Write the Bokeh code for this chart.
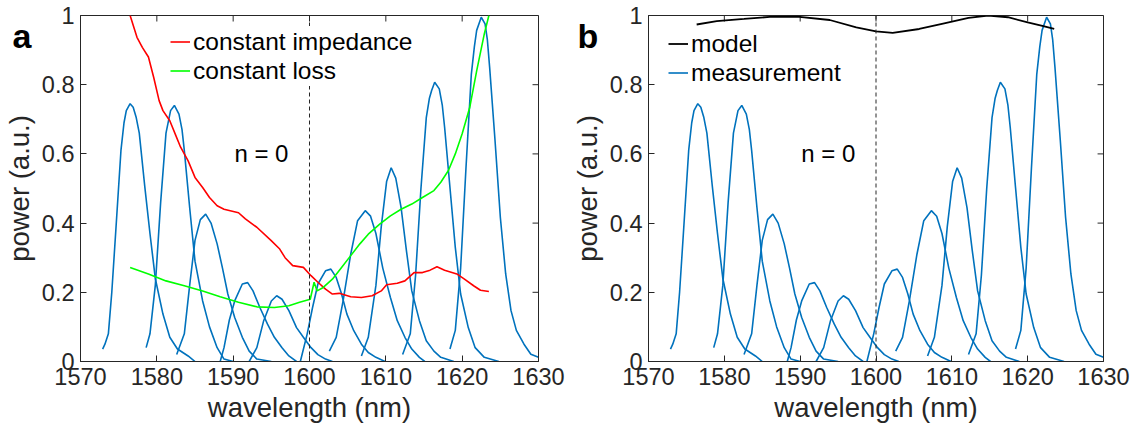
from bokeh.plotting import figure
from bokeh.layouts import row
from bokeh.models import Span, Label, Legend, LegendItem, FixedTicker, Range1d
from bokeh.embed import file_html
from bokeh.resources import INLINE

FONT = "Liberation Sans"
AX = "#262626"
BLUE = "#0072BD"

x_ticks = [1570, 1580, 1590, 1600, 1610, 1620, 1630]
y_ticks = [0, 0.2, 0.4, 0.6, 0.8, 1]
y_tick_labels = ["0", "0.2", "0.4", "0.6", "0.8", "1"]

# measured peaks (wavelength nm, power a.u.)
m1_wl = [1572.9, 1573.2, 1573.65, 1574.1, 1574.6, 1575.3, 1575.7, 1576.0, 1576.5, 1576.9, 1577.3, 1577.7, 1578.4, 1579.1, 1579.8, 1580.8, 1581.7, 1582.7, 1584.1, 1585.0]
m1_p = [0.036, 0.05, 0.08, 0.2, 0.37, 0.61, 0.69, 0.725, 0.745, 0.735, 0.705, 0.66, 0.51, 0.37, 0.24, 0.137, 0.07, 0.036, 0.016, 0.0]
m2_wl = [1578.6, 1579.1, 1579.8, 1580.5, 1581.2, 1581.8, 1582.3, 1582.9, 1583.3, 1583.6, 1584.3, 1585.0, 1586.0, 1586.9, 1587.9, 1588.8, 1590.0]
m2_p = [0.04, 0.08, 0.22, 0.46, 0.66, 0.725, 0.74, 0.715, 0.67, 0.61, 0.445, 0.29, 0.175, 0.10, 0.04, 0.007, 0.0]
m3_wl = [1582.6, 1583.6, 1584.3, 1585.0, 1585.7, 1586.4, 1587.1, 1587.9, 1588.6, 1589.3, 1590.2, 1591.2, 1592.1, 1593.1, 1595.0]
m3_p = [0.02, 0.08, 0.22, 0.35, 0.41, 0.426, 0.40, 0.34, 0.27, 0.195, 0.127, 0.07, 0.03, 0.007, 0.0]
m4_wl = [1588.3, 1588.8, 1589.5, 1590.2, 1591.2, 1591.9, 1592.6, 1593.5, 1594.5, 1595.4, 1596.4, 1597.3, 1598.3]
m4_p = [0.0, 0.04, 0.12, 0.175, 0.224, 0.228, 0.204, 0.156, 0.108, 0.07, 0.04, 0.016, 0.0]
m5_wl = [1592.1, 1593.1, 1594.0, 1595.0, 1595.7, 1596.4, 1597.3, 1598.3, 1599.2, 1600.2, 1601.1, 1602.1, 1603.0]
m5_p = [0.0, 0.04, 0.118, 0.175, 0.19, 0.18, 0.147, 0.098, 0.07, 0.04, 0.02, 0.007, 0.0]
m6_wl = [1598.8, 1599.7, 1600.4, 1601.1, 1602.1, 1602.8, 1603.5, 1604.2, 1604.9, 1605.8, 1606.8, 1607.7, 1608.7, 1609.9]
m6_p = [0.0, 0.08, 0.156, 0.224, 0.262, 0.267, 0.243, 0.195, 0.137, 0.089, 0.05, 0.026, 0.012, 0.0]
m7_wl = [1602.6, 1603.5, 1604.4, 1605.4, 1606.3, 1607.3, 1608.0, 1608.7, 1609.6, 1610.6, 1611.5, 1612.5, 1613.4, 1614.4, 1615.1]
m7_p = [0.03, 0.07, 0.175, 0.31, 0.407, 0.436, 0.42, 0.37, 0.27, 0.185, 0.118, 0.07, 0.036, 0.012, 0.0]
m8_wl = [1606.8, 1607.7, 1608.7, 1609.4, 1610.1, 1610.7, 1611.3, 1612.0, 1612.7, 1613.4, 1614.4, 1615.3, 1616.3, 1617.2, 1618.9]
m8_p = [0.016, 0.07, 0.22, 0.39, 0.52, 0.56, 0.53, 0.445, 0.32, 0.204, 0.118, 0.06, 0.03, 0.012, 0.0]
m9_wl = [1612.2, 1613.2, 1613.9, 1614.6, 1615.3, 1615.7, 1616.0, 1616.4, 1617.0, 1617.4, 1617.7, 1618.4, 1619.1, 1619.8, 1620.8, 1621.7, 1622.9, 1624.8]
m9_p = [0.02, 0.08, 0.25, 0.5, 0.705, 0.76, 0.783, 0.807, 0.788, 0.74, 0.677, 0.503, 0.33, 0.195, 0.098, 0.04, 0.012, 0.0]
m10_wl = [1618.4, 1619.1, 1619.8, 1620.5, 1621.2, 1621.6, 1621.9, 1622.5, 1623.0, 1623.3, 1623.6, 1624.3, 1625.0, 1625.7, 1626.4, 1627.1, 1628.1, 1629.0, 1630.0]
m10_p = [0.036, 0.09, 0.27, 0.56, 0.83, 0.91, 0.957, 0.995, 0.976, 0.93, 0.85, 0.64, 0.417, 0.253, 0.147, 0.09, 0.05, 0.021, 0.012]

meas_wl = [m1_wl, m2_wl, m3_wl, m4_wl, m5_wl, m6_wl, m7_wl, m8_wl, m9_wl, m10_wl]
meas_p = [m1_p, m2_p, m3_p, m4_p, m5_p, m6_p, m7_p, m8_p, m9_p, m10_p]

imp_wl = [1576.5, 1577.4, 1578.1, 1578.9, 1579.6, 1580.3, 1580.8, 1581.7, 1582.4, 1583.1, 1584.1, 1585.0, 1586.0, 1586.9, 1587.9, 1588.8, 1590.7, 1591.6, 1593.1, 1594.95, 1596.1, 1596.8, 1597.8, 1599.2, 1600.2, 1601.1, 1602.1, 1603.0, 1603.9, 1605.4, 1606.8, 1608.2, 1609.4, 1610.1, 1611.5, 1612.5, 1613.7, 1614.8, 1615.8, 1616.7, 1617.7, 1619.3, 1620.3, 1621.5, 1622.4, 1623.5]
imp_p = [1.0, 0.937, 0.908, 0.88, 0.82, 0.754, 0.725, 0.696, 0.658, 0.62, 0.58, 0.532, 0.503, 0.474, 0.45, 0.44, 0.43, 0.412, 0.388, 0.35, 0.325, 0.30, 0.277, 0.272, 0.248, 0.229, 0.209, 0.195, 0.197, 0.187, 0.185, 0.19, 0.204, 0.222, 0.226, 0.233, 0.257, 0.257, 0.264, 0.274, 0.264, 0.253, 0.238, 0.219, 0.206, 0.2025]

loss_wl = [1576.5, 1578.9, 1581.2, 1583.6, 1586.0, 1588.3, 1590.7, 1593.1, 1595.4, 1597.3, 1598.7, 1600.1, 1600.6, 1601.0, 1601.8, 1603.0, 1604.2, 1605.4, 1606.6, 1607.7, 1609.2, 1610.6, 1612.0, 1613.4, 1614.8, 1616.3, 1617.2, 1618.2, 1619.1, 1620.0, 1621.0, 1621.9, 1622.9, 1623.5]
loss_p = [0.272, 0.253, 0.233, 0.219, 0.204, 0.187, 0.171, 0.158, 0.156, 0.161, 0.171, 0.18, 0.229, 0.204, 0.214, 0.238, 0.272, 0.306, 0.34, 0.368, 0.397, 0.421, 0.44, 0.455, 0.474, 0.494, 0.518, 0.552, 0.60, 0.658, 0.735, 0.84, 0.947, 1.0]

model_wl = [1576.35, 1579.0, 1582.6, 1586.0, 1589.6, 1593.9, 1597.4, 1600.0, 1602.2, 1605.7, 1608.7, 1612.2, 1614.8, 1617.4, 1620.0, 1621.8, 1623.5]
model_p = [0.974, 0.984, 0.99, 0.996, 0.997, 0.987, 0.966, 0.954, 0.95, 0.961, 0.976, 0.993, 1.0, 0.995, 0.98, 0.971, 0.961]

TICK_PX = 6


def make_fig(letter, bl, br, lx, ly):
    fw = 568 - bl - br
    fh = 437 - 15 - 76
    p = figure(width=568, height=437, x_range=Range1d(1570, 1630), y_range=Range1d(0, 1),
               output_backend="svg", toolbar_location=None,
               min_border_left=bl, min_border_right=br, min_border_top=15, min_border_bottom=76)
    p.grid.visible = False
    p.outline_line_color = AX
    p.outline_line_width = 1
    p.background_fill_color = "white"
    p.border_fill_color = "white"
    for ax in (p.xaxis[0], p.yaxis[0]):
        ax.axis_line_color = AX
        ax.major_tick_line_color = AX
        ax.major_tick_in = TICK_PX
        ax.major_tick_out = 0
        ax.minor_tick_line_color = None
        ax.major_label_text_font = FONT
        ax.major_label_text_font_size = "23.5px"
        ax.major_label_text_color = AX
        ax.axis_label_text_font = FONT
        ax.axis_label_text_font_size = "27.5px"
        ax.axis_label_text_font_style = "normal"
        ax.axis_label_text_color = AX
    p.xaxis[0].ticker = FixedTicker(ticks=x_ticks)
    p.yaxis[0].ticker = FixedTicker(ticks=y_ticks)
    p.yaxis[0].major_label_overrides = {t: s for t, s in zip(y_ticks, y_tick_labels)}
    p.xaxis[0].axis_label = "wavelength (nm)"
    p.yaxis[0].axis_label = "power (a.u.)"
    p.xaxis[0].major_label_standoff = 6
    p.xaxis[0].axis_label_standoff = 4
    p.yaxis[0].major_label_standoff = 6
    p.yaxis[0].axis_label_standoff = 4

    # inward ticks on top and right edges of the box
    dy = TICK_PX / fh
    dx = TICK_PX * 60.0 / fw
    p.segment(x0=x_ticks, y0=[1] * len(x_ticks), x1=x_ticks, y1=[1 - dy] * len(x_ticks),
              line_color=AX, line_width=1)
    p.segment(x0=[1630] * len(y_ticks), y0=y_ticks, x1=[1630 - dx] * len(y_ticks), y1=y_ticks,
              line_color=AX, line_width=1)

    # panel letter: kept in the (roomy) right side panel so it is not clipped,
    # positioned in canvas pixels at the top-left corner
    p.add_layout(Label(x=lx, y=ly, x_units="canvas", y_units="canvas", text=letter,
                       text_font=FONT, text_font_size="34px", text_font_style="bold",
                       text_color="black", text_baseline="alphabetic", text_align="left"), "right")
    p.add_layout(Label(x=1593.7, y=0.6, text="n = 0", text_font=FONT, text_font_size="24px",
                       text_color="black", text_baseline="middle", text_align="center"))
    span = Span(location=1600, dimension="height", line_color=AX, line_width=1, line_dash="4 3")
    p.add_layout(span)
    return p


def style_legend(lg):
    lg.label_text_font = FONT
    lg.label_text_font_size = "24.5px"
    lg.label_text_color = "black"
    lg.glyph_width = 20
    lg.glyph_height = 29
    lg.label_height = 29
    lg.label_standoff = 3
    lg.spacing = 0
    lg.padding = 1
    lg.margin = 0
    lg.border_line_alpha = 0
    lg.background_fill_color = "white"
    lg.background_fill_alpha = 1


# panel a
pa = make_fig("a", 77, 30, 12, 35)
pa.multi_line(xs=meas_wl, ys=meas_p, line_color=BLUE, line_width=1.6)
r_imp = pa.line(imp_wl, imp_p, line_color="#FF0000", line_width=1.6)
r_loss = pa.line(loss_wl, loss_p, line_color="#00FF00", line_width=1.6)
lga = Legend(items=[LegendItem(label="constant impedance", renderers=[r_imp]),
                    LegendItem(label="constant loss", renderers=[r_loss])],
             location=(89, 275))
style_legend(lga)
pa.add_layout(lga)

# panel b
pb = make_fig("b", 75, 33, 9, 35)
r_meas = pb.multi_line(xs=meas_wl, ys=meas_p, line_color=BLUE, line_width=1.6)
r_model = pb.line(model_wl, model_p, line_color="black", line_width=1.8)
lgb = Legend(items=[LegendItem(label="model", renderers=[r_model]),
                    LegendItem(label="measurement", renderers=[r_meas])],
             location=(19, 273))
style_legend(lgb)
pb.add_layout(lgb)

layout = row(pa, pb)
open("out.html", "w").write(file_html(layout, INLINE))
